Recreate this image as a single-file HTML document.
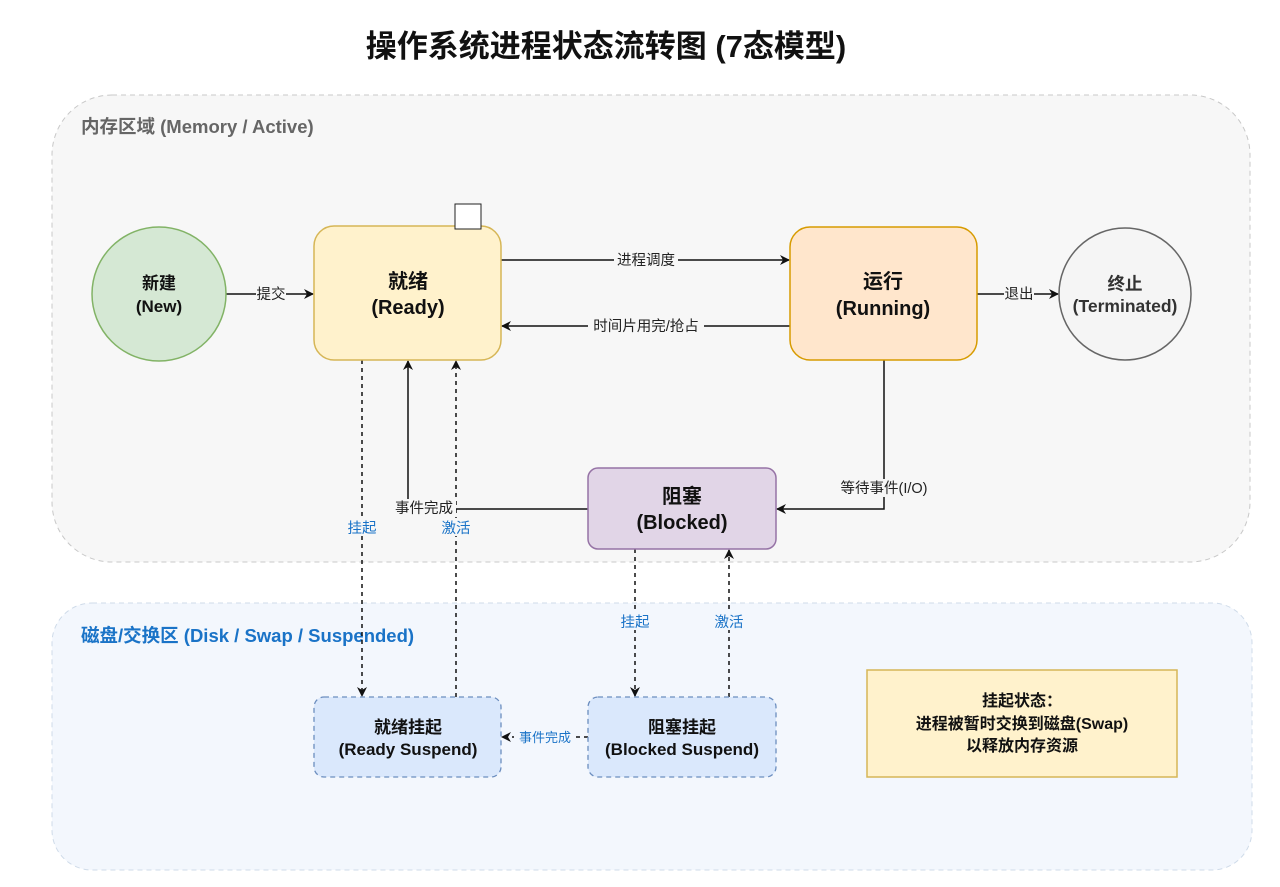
<!DOCTYPE html>
<html><head><meta charset="utf-8"><style>
html,body{margin:0;padding:0;background:#fff;width:1280px;height:887px;overflow:hidden}
svg{display:block}
text{font-family:"Liberation Sans","Noto Sans CJK SC",sans-serif}
</style></head><body>
<svg width="1280" height="887" viewBox="0 0 1280 887" xmlns="http://www.w3.org/2000/svg">
<defs>
<marker id="a" markerWidth="10" markerHeight="10" refX="9" refY="5" orient="auto" markerUnits="userSpaceOnUse"><path d="M0,0 L10,5 L0,10 L3,5 Z" fill="#111"/></marker>
</defs>
<text x="606" y="57" text-anchor="middle" font-size="31" font-weight="bold" fill="#111">操作系统进程状态流转图 (7态模型)</text>
<rect x="52" y="95" width="1198" height="467" rx="60" fill="#f7f7f7" stroke="#c8c8c8" stroke-dasharray="5,4"/>
<text x="81" y="133" font-size="18.5" font-weight="bold" fill="#666">内存区域 (Memory / Active)</text>
<rect x="52" y="603" width="1200" height="267" rx="40" fill="#f3f7fd" stroke="#cfdbe9" stroke-dasharray="5,4"/>
<text x="81" y="642" font-size="18.5" font-weight="bold" fill="#1a73c7">磁盘/交换区 (Disk / Swap / Suspended)</text>

<g stroke="#111" stroke-width="1.5" fill="none">
<line x1="226" y1="294" x2="313" y2="294" marker-end="url(#a)"/>
<line x1="501" y1="260" x2="789" y2="260" marker-end="url(#a)"/>
<line x1="790" y1="326" x2="502" y2="326" marker-end="url(#a)"/>
<line x1="977" y1="294" x2="1058" y2="294" marker-end="url(#a)"/>
<polyline points="884,360 884,509 777,509" marker-end="url(#a)"/>
<polyline points="588,509 408,509 408,361" marker-end="url(#a)"/>
<g stroke-dasharray="4,4">
<line x1="362" y1="360" x2="362" y2="696" marker-end="url(#a)"/>
<line x1="456" y1="697" x2="456" y2="361" marker-end="url(#a)"/>
<line x1="635" y1="549" x2="635" y2="696" marker-end="url(#a)"/>
<line x1="729" y1="697" x2="729" y2="550" marker-end="url(#a)"/>
<line x1="588" y1="737" x2="502" y2="737" marker-end="url(#a)"/>
</g>
</g>
<g font-size="14.5" fill="#222" text-anchor="middle">
<rect x="256" y="285" width="30" height="18" fill="#f7f7f7"/><text x="271" y="299">提交</text>
<rect x="614" y="251" width="64" height="18" fill="#f7f7f7"/><text x="646" y="265">进程调度</text>
<rect x="588" y="317" width="116" height="18" fill="#f7f7f7"/><text x="646" y="331">时间片用完/抢占</text>
<rect x="1004" y="285" width="30" height="18" fill="#f7f7f7"/><text x="1019" y="299">退出</text>
<rect x="836" y="479" width="96" height="18" fill="#f7f7f7"/><text x="884" y="493">等待事件(I/O)</text>
<rect x="392" y="499" width="64" height="18" fill="#f7f7f7"/><text x="424" y="513">事件完成</text>
</g>
<g font-size="14.5" fill="#1a73c7" text-anchor="middle">
<rect x="346" y="518" width="32" height="18" fill="#f7f7f7"/><text x="362" y="533">挂起</text>
<rect x="440" y="518" width="32" height="18" fill="#f7f7f7"/><text x="456" y="533">激活</text>
<rect x="619" y="612" width="32" height="18" fill="#f3f7fd"/><text x="635" y="627">挂起</text>
<rect x="713" y="612" width="32" height="18" fill="#f3f7fd"/><text x="729" y="627">激活</text>
<rect x="514" y="728" width="62" height="17" fill="#f3f7fd"/><text x="545" y="742" font-size="13">事件完成</text>
</g>

<circle cx="159" cy="294" r="67" fill="#d5e8d4" stroke="#82b366" stroke-width="1.5"/>
<text x="159" y="289" text-anchor="middle" font-size="17" font-weight="bold" fill="#111">新建</text>
<text x="159" y="312" text-anchor="middle" font-size="17" font-weight="bold" fill="#111">(New)</text>

<rect x="314" y="226" width="187" height="134" rx="20" fill="#fff2cc" stroke="#d6b656" stroke-width="1.5"/>
<rect x="455" y="204" width="26" height="25" fill="#fff" stroke="#222" stroke-width="1"/>
<text x="408" y="288" text-anchor="middle" font-size="20" font-weight="bold" fill="#111">就绪</text>
<text x="408" y="314" text-anchor="middle" font-size="20" font-weight="bold" fill="#111">(Ready)</text>

<rect x="790" y="227" width="187" height="133" rx="20" fill="#ffe6cc" stroke="#d79b00" stroke-width="1.5"/>
<text x="883" y="288" text-anchor="middle" font-size="20" font-weight="bold" fill="#111">运行</text>
<text x="883" y="315" text-anchor="middle" font-size="20" font-weight="bold" fill="#111">(Running)</text>

<circle cx="1125" cy="294" r="66" fill="#f5f5f5" stroke="#666" stroke-width="1.5"/>
<text x="1125" y="290" text-anchor="middle" font-size="17.5" font-weight="bold" fill="#333">终止</text>
<text x="1125" y="312" text-anchor="middle" font-size="17.5" font-weight="bold" fill="#333">(Terminated)</text>

<rect x="588" y="468" width="188" height="81" rx="10" fill="#e1d5e7" stroke="#9673a6" stroke-width="1.5"/>
<text x="682" y="503" text-anchor="middle" font-size="20" font-weight="bold" fill="#111">阻塞</text>
<text x="682" y="529" text-anchor="middle" font-size="20" font-weight="bold" fill="#111">(Blocked)</text>

<rect x="314" y="697" width="187" height="80" rx="10" fill="#dae8fc" stroke="#6c8ebf" stroke-width="1.3" stroke-dasharray="5,4"/>
<text x="408" y="733" text-anchor="middle" font-size="17" font-weight="bold" fill="#111">就绪挂起</text>
<text x="408" y="755" text-anchor="middle" font-size="17" font-weight="bold" fill="#111">(Ready Suspend)</text>

<rect x="588" y="697" width="188" height="80" rx="10" fill="#dae8fc" stroke="#6c8ebf" stroke-width="1.3" stroke-dasharray="5,4"/>
<text x="682" y="733" text-anchor="middle" font-size="17" font-weight="bold" fill="#111">阻塞挂起</text>
<text x="682" y="755" text-anchor="middle" font-size="17" font-weight="bold" fill="#111">(Blocked Suspend)</text>

<rect x="867" y="670" width="310" height="107" fill="#fff2cc" stroke="#d6b656" stroke-width="1.5"/>
<text x="1022" y="706" text-anchor="middle" font-size="16" font-weight="bold" fill="#111">挂起状态：</text>
<text x="1022" y="729" text-anchor="middle" font-size="16" font-weight="bold" fill="#111">进程被暂时交换到磁盘(Swap)</text>
<text x="1022" y="751" text-anchor="middle" font-size="16" font-weight="bold" fill="#111">以释放内存资源</text>
</svg>
</body></html>
